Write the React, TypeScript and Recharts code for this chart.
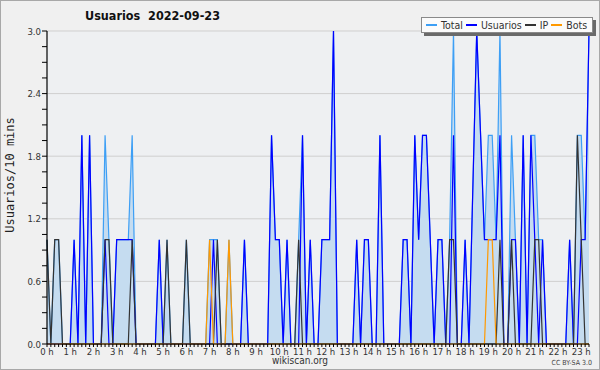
import React from 'react';
import { ComposedChart, Area, Line, XAxis, YAxis, CartesianGrid, Legend } from 'recharts';

// 10-minute slots from 00:00 (index 0) to 23:20 (index 140)
const usuarios = [
  0, 0, 0, 0, 0, 0, 0, 1, 0, 2, 0, 2,
  0, 0, 0, 1, 0, 0, 1, 1, 1, 1, 1, 0,
  0, 0, 0, 0, 0, 1, 0, 0, 0, 0, 0, 0,
  0, 0, 0, 0, 0, 0, 0, 1, 0, 0, 0, 0,
  0, 0, 0, 1, 0, 0, 0, 0, 0, 0, 2, 1,
  1, 0, 1, 0, 0, 0, 2, 0, 1, 0, 0, 1,
  1, 1, 3, 0, 0, 0, 0, 0, 1, 0, 1, 1,
  0, 0, 2, 0, 0, 0, 0, 0, 1, 1, 0, 2,
  1, 2, 2, 1, 0, 1, 1, 0, 0, 2, 0, 0,
  1, 0, 1.5, 3, 2, 1, 1, 1, 1, 2, 0, 0,
  1, 1, 0, 2, 0, 2, 1, 0, 1, 0, 0, 0,
  0, 0, 0, 1, 0, 0, 1, 1, 3,
];

const ip = [
  1, 0, 1, 1, 0, 0, 0, 0, 0, 0, 0, 0,
  0, 0, 0, 1, 1, 0, 0, 0, 0, 0, 1, 0,
  0, 0, 0, 0, 0, 0, 0, 1, 0, 0, 0, 0,
  1, 0, 0, 0, 0, 0, 0, 0, 1, 0, 0, 0,
  0, 0, 0, 0, 0, 0, 0, 0, 0, 0, 0, 0,
  0, 0, 0, 0, 0, 1, 0, 0, 0, 0, 0, 0,
  0, 0, 0, 0, 0, 0, 0, 0, 0, 0, 0, 0,
  0, 0, 0, 0, 0, 0, 0, 0, 0, 0, 0, 0,
  0, 0, 0, 0, 0, 0, 0, 0, 1, 1, 0, 0,
  0, 0, 0, 0, 0, 0, 0, 0, 0, 1, 0, 0,
  1, 0, 0, 0, 0, 0, 1, 1, 0, 0, 0, 0,
  0, 0, 0, 0, 0, 2, 1, 0, 0,
];

const bots = [
  0, 0, 0, 0, 0, 0, 0, 0, 0, 0, 0, 0,
  0, 0, 0, 0, 0, 0, 0, 0, 0, 0, 0, 0,
  0, 0, 0, 0, 0, 0, 0, 0, 0, 0, 0, 0,
  0, 0, 0, 0, 0, 0, 1, 0, 0, 0, 0, 1,
  0, 0, 0, 0, 0, 0, 0, 0, 0, 0, 0, 0,
  0, 0, 0, 0, 0, 0, 0, 0, 0, 0, 0, 0,
  0, 0, 0, 0, 0, 0, 0, 0, 0, 0, 0, 0,
  0, 0, 0, 0, 0, 0, 0, 0, 0, 0, 0, 0,
  0, 0, 0, 0, 0, 0, 0, 0, 0, 0, 0, 0,
  0, 0, 0, 0, 0, 0, 1, 1, 0, 0, 0, 0,
  0, 0, 0, 0, 0, 0, 0, 0, 0, 0, 0, 0,
  0, 0, 0, 0, 0, 0, 0, 0, 0,
];

const total = [
  1, 0, 1, 1, 0, 0, 0, 1, 0, 2, 0, 2,
  0, 0, 0, 2, 1, 0, 1, 1, 1, 1, 2, 0,
  0, 0, 0, 0, 0, 1, 0, 1, 0, 0, 0, 0,
  1, 0, 0, 0, 0, 0, 1, 1, 1, 0, 0, 1,
  0, 0, 0, 1, 0, 0, 0, 0, 0, 0, 2, 1,
  1, 0, 1, 0, 0, 1, 2, 0, 1, 0, 0, 1,
  1, 1, 3, 0, 0, 0, 0, 0, 1, 0, 1, 1,
  0, 0, 2, 0, 0, 0, 0, 0, 1, 1, 0, 2,
  1, 2, 2, 1, 0, 1, 1, 0, 1, 3, 0, 0,
  1, 0, 1.5, 3, 2, 1, 2, 2, 1, 3, 0, 0,
  2, 1, 0, 2, 0, 2, 2, 1, 1, 0, 0, 0,
  0, 0, 0, 1, 0, 2, 2, 1, 3,
];

const hourLabels = [
  '0 h', '1 h', '2 h', '3 h', '4 h', '5 h', '6 h', '7 h', '8 h', '9 h', '10 h', '11 h',
  '12 h', '13 h', '14 h', '15 h', '16 h', '17 h', '18 h', '19 h', '20 h', '21 h', '22 h', '23 h',
];
const slotsPerHour = 6;

const yTicks = [0, 0.15, 0.3, 0.45, 0.6, 0.75, 0.9, 1.05, 1.2, 1.35, 1.5, 1.65, 1.8, 1.95, 2.1, 2.25, 2.4, 2.55, 2.7, 2.85, 3.0];
const yLabelled = [0, 0.6, 1.2, 1.8, 2.4, 3.0];

const seriesNames = ['Total', 'Usuarios', 'IP', 'Bots'];
const seriesColors = ['#3d9ff5', '#0000ff', '#333333', '#ff9900'];

const slots = usuarios.map((_, i) => i);
const data = slots.map((s, i) => ({
  slot: s,
  total: total[i],
  usuarios: usuarios[i],
  ip: ip[i],
  bots: bots[i],
}));

const FONT = '"DejaVu Sans Condensed", "Liberation Sans Narrow", "DejaVu Sans", sans-serif';

const XTick = (props: any) => {
  const { x, y, payload } = props;
  const v = payload.value;
  if (v % slotsPerHour !== 0) return null;
  return (
    <text x={x} y={y + 7.5} textAnchor="middle" fontSize={9.5} fill="#333" fontFamily={FONT} style={{ fontStretch: 'condensed' }}>
      {hourLabels[v / slotsPerHour]}
    </text>
  );
};

const YTick = (props: any) => {
  const { x, y, payload } = props;
  const v = payload.value;
  if (!yLabelled.some((l) => Math.abs(l - v) < 1e-6)) return null;
  return (
    <text x={x} y={y + 3.5} textAnchor="end" fontSize={9.5} fill="#333" fontFamily={FONT} style={{ fontStretch: 'condensed' }}>
      {v.toFixed(1)}
    </text>
  );
};

const LegendBox = () => (
  <div
    style={{
      width: 172,
      height: 16,
      background: '#fbfbfb',
      border: '1px solid #8a8a8a',
      boxShadow: '3px 3px 0 #6a6a6a',
      display: 'flex',
      alignItems: 'center',
      fontFamily: FONT,
      fontStretch: 'condensed',
      fontSize: 10.5,
      color: '#333',
      paddingLeft: 4,
      boxSizing: 'border-box',
      whiteSpace: 'nowrap',
    }}
  >
    {seriesNames.map((n, i) => (
      <span key={n} style={{ display: 'inline-flex', alignItems: 'center', marginRight: 3 }}>
        <span style={{ display: 'inline-block', width: 11, height: 1.5, background: seriesColors[i], marginRight: 4 }} />
        {n}
      </span>
    ))}
  </div>
);

export default function App() {
  return (
    <div style={{ position: 'fixed', left: 0, top: 0, width: 600, height: 370, background: '#f0f0f0' }}>
      <ComposedChart
        width={600}
        height={370}
        data={data}
        margin={{ top: 31, right: 11, bottom: 0, left: 0 }}
      >
        <CartesianGrid
          vertical={false}
          horizontalValues={[0.6, 1.2, 1.8, 2.4, 3.0]}
          stroke="#cfcfcf"
          fill="#eef0f2"
          fillOpacity={1}
        />
        <XAxis
          dataKey="slot"
          type="number"
          domain={[0, 140]}
          ticks={slots}
          interval={0}
          height={26}
          tickSize={3}
          tickMargin={0}
          tick={<XTick />}
          axisLine={{ stroke: '#000', strokeWidth: 1.2 }}
          tickLine={{ stroke: '#000' }}
        />
        <YAxis
          type="number"
          domain={[0, 3]}
          ticks={yTicks}
          interval={0}
          width={47}
          tickSize={5}
          tickMargin={1}
          tick={<YTick />}
          axisLine={{ stroke: '#000', strokeWidth: 1.2 }}
          tickLine={{ stroke: '#000' }}
        />
        <Legend
          verticalAlign="top"
          wrapperStyle={{ position: 'absolute', left: 421, top: 17, width: 172, height: 0, overflow: 'visible' }}
          content={() => <LegendBox />}
        />
        <Area
          type="linear"
          dataKey="total"
          name="Total"
          stroke={seriesColors[0]}
          strokeWidth={1.2}
          fill="#c5dcf0"
          fillOpacity={1}
          dot={false}
          activeDot={false}
          isAnimationActive={false}
        />
        <Line type="linear" dataKey="usuarios" name="Usuarios" stroke={seriesColors[1]} strokeWidth={1.2} dot={false} activeDot={false} isAnimationActive={false} />
        <Line type="linear" dataKey="ip" name="IP" stroke={seriesColors[2]} strokeWidth={1.2} dot={false} activeDot={false} isAnimationActive={false} />
        <Line type="linear" dataKey="bots" name="Bots" stroke={seriesColors[3]} strokeWidth={1.2} dot={false} activeDot={false} isAnimationActive={false} />
      </ComposedChart>
      <div style={{ position: 'absolute', left: 85, top: 8, fontFamily: FONT, fontStretch: 'condensed', fontWeight: 'bold', fontSize: 12.5, color: '#111', whiteSpace: 'pre' }}>
        {'Usuarios  2022-09-23'}
      </div>
      <div
        style={{
          position: 'absolute',
          left: 10,
          top: 175,
          transform: 'translate(-50%, -50%) rotate(-90deg)',
          fontFamily: '"DejaVu Sans Mono", monospace',
          fontSize: 12,
          color: '#222',
          whiteSpace: 'nowrap',
        }}
      >
        Usuarios/10 mins
      </div>
      <div style={{ position: 'absolute', left: 0, width: 600, top: 355, textAlign: 'center', fontFamily: FONT, fontStretch: 'condensed', fontSize: 10, color: '#333' }}>
        wikiscan.org
      </div>
      <div style={{ position: 'absolute', right: 8, top: 359, fontFamily: FONT, fontStretch: 'condensed', fontSize: 7, color: '#444' }}>
        CC BY-SA 3.0
      </div>
      <div style={{ position: 'absolute', left: 0, top: 0, width: 600, height: 370, border: '1px solid #a8a8a8', boxSizing: 'border-box', pointerEvents: 'none' }} />
    </div>
  );
}
